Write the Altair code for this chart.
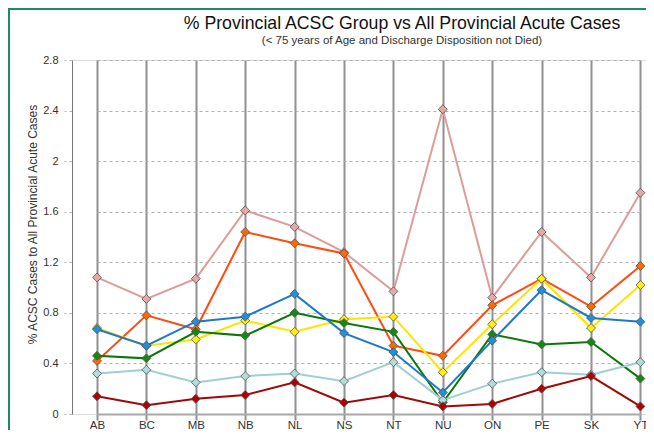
import altair as alt
import pandas as pd

provinces = ["AB", "BC", "MB", "NB", "NL", "NS", "NT", "NU", "ON", "PE", "SK", "YT"]

series_names = ["Group 1", "Group 2", "Group 3", "Group 4", "Group 5", "Group 6", "Group 7"]
pink = [1.08, 0.91, 1.07, 1.61, 1.48, 1.28, 0.97, 2.41, 0.92, 1.44, 1.08, 1.75]
orange = [0.42, 0.78, 0.67, 1.44, 1.35, 1.27, 0.54, 0.46, 0.86, 1.07, 0.85, 1.17]
yellow = [0.68, 0.54, 0.59, 0.74, 0.65, 0.75, 0.77, 0.33, 0.71, 1.07, 0.68, 1.02]
green = [0.46, 0.44, 0.65, 0.62, 0.80, 0.72, 0.65, 0.09, 0.63, 0.55, 0.57, 0.28]
teal = [0.32, 0.35, 0.25, 0.30, 0.32, 0.26, 0.41, 0.11, 0.24, 0.33, 0.31, 0.41]
darkred = [0.14, 0.07, 0.12, 0.15, 0.25, 0.09, 0.15, 0.06, 0.08, 0.20, 0.30, 0.06]
blue = [0.67, 0.54, 0.73, 0.77, 0.95, 0.64, 0.49, 0.17, 0.58, 0.98, 0.76, 0.73]

values = [pink, orange, yellow, green, teal, darkred, blue]
line_colors = ["#DC9C98", "#FF4A10", "#FFE400", "#0A780A", "#9FCFCF", "#A00808", "#1E78C8"]
marker_colors = ["#E6A9A5", "#FF6A00", "#FFEE10", "#108A10", "#B2DCDC", "#B00000", "#2090D8"]
y_ticks = [0, 0.4, 0.8, 1.2, 1.6, 2.0, 2.4, 2.8]

rows = []
for i, (name, vals) in enumerate(zip(series_names, values)):
    for p, v in zip(provinces, vals):
        rows.append({"series": name, "order": i, "prov": p, "value": v})
df = pd.DataFrame(rows)

FONT = "Liberation Sans"

x_enc = alt.X(
    "prov:N",
    sort=provinces,
    scale=alt.Scale(type="point", range=[25, 568.4], padding=0),
    axis=alt.Axis(
        title=None,
        labelAngle=0,
        labelFontSize=11.5,
        labelColor="#333333",
        labelFont=FONT,
        labelBaseline="alphabetic",
        labelPadding=8,
        tickSize=6,
        tickColor="#909090",
        tickWidth=2,
        grid=True,
        gridColor="#909090",
        gridWidth=2,
        domainColor="#a8a8a8",
        domainWidth=2,
    ),
)
y_enc = alt.Y(
    "value:Q",
    scale=alt.Scale(domain=[0, 2.8], nice=False, zero=True),
    axis=alt.Axis(
        title="% ACSC Cases to All Provincial Acute Cases",
        titleFont=FONT,
        titleFontSize=12,
        titleFontWeight="normal",
        titleColor="#333333",
        titleX=-36,
        titleY=164,
        titleAngle=-90,
        titleAlign="center",
        titleBaseline="alphabetic",
        values=y_ticks,
        format="~g",
        labelFontSize=11,
        labelFont=FONT,
        labelColor="#333333",
        labelPadding=6,
        tickSize=8,
        tickColor="#b0b0b0",
        tickDash=[3, 3],
        grid=True,
        gridColor="#b0b0b0",
        gridDash=[3, 3],
        domainColor="#777777",
        domainWidth=1,
    ),
)

lines = alt.Chart(df).mark_line(strokeWidth=2).encode(
    x=x_enc,
    y=y_enc,
    color=alt.Color("series:N", sort=series_names,
                    scale=alt.Scale(domain=series_names, range=line_colors), legend=None),
    order=alt.Order("prov:N"),
)

points = alt.Chart(df).mark_point(
    shape="diamond", filled=True, size=80, stroke="#505050", strokeWidth=0.8, opacity=1
).encode(
    x=alt.X("prov:N", sort=provinces),
    y=alt.Y("value:Q"),
    fill=alt.Fill("series:N", sort=series_names,
                  scale=alt.Scale(domain=series_names, range=marker_colors), legend=None),
)

frame_df = pd.DataFrame({"a": [0]})
border_left = alt.Chart(frame_df).mark_rule(
    stroke="#1F8A6A", strokeWidth=2, clip=False
).encode(x=alt.value(-63), y=alt.value(-52), y2=alt.value(400))
border_top = alt.Chart(frame_df).mark_rule(
    stroke="#1F8A6A", strokeWidth=2, clip=False
).encode(x=alt.value(-64), x2=alt.value(590), y=alt.value(-51))

chart = alt.layer(border_left, border_top, lines, points).resolve_scale(color="independent").properties(
    width=574,
    height=354,
    padding={"left": 64, "top": 52, "right": 0, "bottom": 16},
    autosize=alt.AutoSizeParams(type="none"),
    title=alt.TitleParams(
        text="% Provincial ACSC Group vs All Provincial Acute Cases",
        subtitle="(< 75 years of Age and Discharge Disposition not Died)",
        font=FONT,
        fontSize=17.7,
        fontWeight="normal",
        color="#111111",
        subtitleFont=FONT,
        subtitleFontSize=11.5,
        subtitleColor="#333333",
        subtitlePadding=2,
        anchor="middle",
        frame="group",
        dx=43,
        offset=-39,
    ),
).configure_view(stroke=None).configure(background="white")

chart.save("out.html", embed_options={"renderer": "svg", "actions": False})
